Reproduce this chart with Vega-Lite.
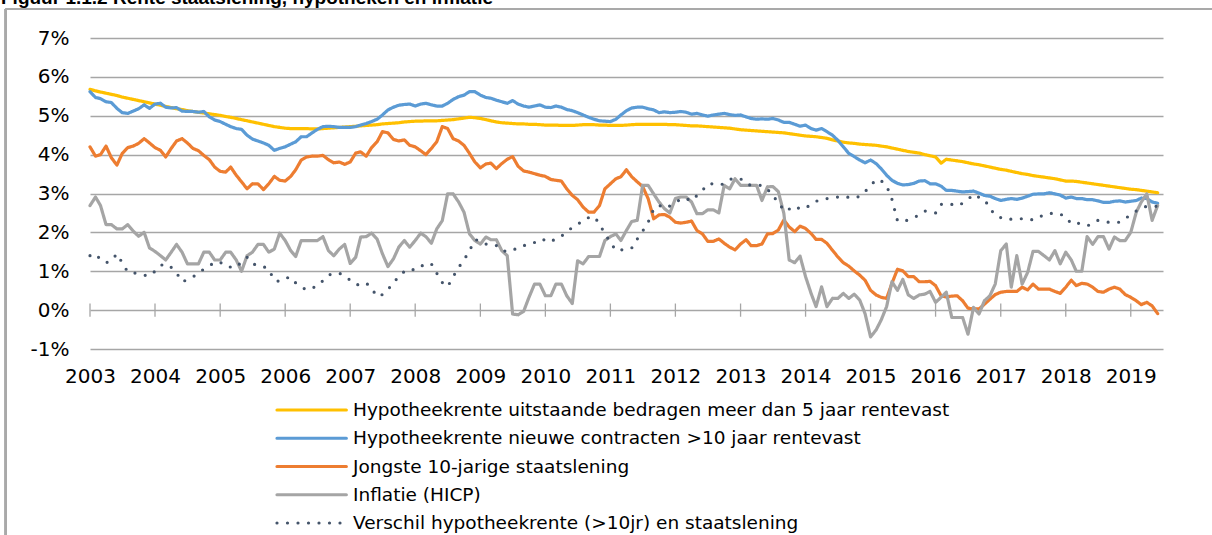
{
  "$schema": "https://vega.github.io/schema/vega-lite/v6.json",
  "width": 1073,
  "height": 311,
  "autosize": "none",
  "padding": {"left": 90, "top": 38, "right": 49, "bottom": 186},
  "background": "white",
  "title": {
    "text": "Figuur 1.1.2 Rente staatslening, hypotheken en inflatie",
    "anchor": "start",
    "frame": "group",
    "dx": -89,
    "offset": 0,
    "font": "Liberation Sans",
    "fontSize": 19,
    "fontWeight": "bold",
    "color": "#000000"
  },
  "config": {
    "view": {"stroke": null},
    "font": "DejaVu Sans",
    "axisY": {"labelOverlap": false, "labelSeparation": 0, "labelFontSize": 20, "labelFont": "DejaVu Sans", "labelColor": "#000000", "labelPadding": 21, "domain": false, "ticks": false, "gridColor": "#a6a6a6", "gridWidth": 1.3, "title": null},
    "axisX": {"labelOverlap": false, "labelFontSize": 20, "labelFont": "DejaVu Sans", "labelColor": "#000000", "labelPadding": 17, "domain": false, "ticks": false, "grid": false, "title": null}
  },
  "datasets": {
    "m": [
      {"d":"2003-01","u":5.68,"n":5.62,"s":4.20,"i":2.69,"v":1.40},
      {"d":"2003-02","u":5.64,"n":5.47,"s":3.96,"i":2.91,"v":1.45},
      {"d":"2003-03","u":5.61,"n":5.44,"s":4.00,"i":2.69,"v":1.30},
      {"d":"2003-04","u":5.58,"n":5.36,"s":4.22,"i":2.20,"v":1.22},
      {"d":"2003-05","u":5.55,"n":5.34,"s":3.92,"i":2.20,"v":1.27},
      {"d":"2003-06","u":5.52,"n":5.19,"s":3.73,"i":2.09,"v":1.45},
      {"d":"2003-07","u":5.48,"n":5.08,"s":4.03,"i":2.09,"v":1.22},
      {"d":"2003-08","u":5.45,"n":5.06,"s":4.18,"i":2.20,"v":0.98},
      {"d":"2003-09","u":5.42,"n":5.12,"s":4.22,"i":2.03,"v":0.96},
      {"d":"2003-10","u":5.39,"n":5.18,"s":4.29,"i":1.90,"v":0.94},
      {"d":"2003-11","u":5.36,"n":5.28,"s":4.41,"i":2.00,"v":0.90},
      {"d":"2003-12","u":5.33,"n":5.19,"s":4.30,"i":1.60,"v":0.88},
      {"d":"2004-01","u":5.30,"n":5.30,"s":4.18,"i":1.51,"v":1.00},
      {"d":"2004-02","u":5.27,"n":5.32,"s":4.11,"i":1.40,"v":1.15},
      {"d":"2004-03","u":5.24,"n":5.22,"s":3.94,"i":1.29,"v":1.19},
      {"d":"2004-04","u":5.21,"n":5.20,"s":4.16,"i":1.49,"v":1.10},
      {"d":"2004-05","u":5.18,"n":5.21,"s":4.35,"i":1.69,"v":0.96},
      {"d":"2004-06","u":5.16,"n":5.12,"s":4.41,"i":1.49,"v":0.73},
      {"d":"2004-07","u":5.13,"n":5.11,"s":4.30,"i":1.19,"v":0.78},
      {"d":"2004-08","u":5.11,"n":5.11,"s":4.16,"i":1.19,"v":0.85},
      {"d":"2004-09","u":5.09,"n":5.09,"s":4.10,"i":1.19,"v":0.97},
      {"d":"2004-10","u":5.07,"n":5.11,"s":3.98,"i":1.49,"v":1.05},
      {"d":"2004-11","u":5.05,"n":4.97,"s":3.87,"i":1.49,"v":1.13},
      {"d":"2004-12","u":5.03,"n":4.89,"s":3.68,"i":1.29,"v":1.24},
      {"d":"2005-01","u":5.01,"n":4.85,"s":3.57,"i":1.29,"v":1.22},
      {"d":"2005-02","u":4.98,"n":4.78,"s":3.55,"i":1.49,"v":1.20},
      {"d":"2005-03","u":4.96,"n":4.72,"s":3.68,"i":1.49,"v":1.10},
      {"d":"2005-04","u":4.93,"n":4.67,"s":3.47,"i":1.29,"v":1.10},
      {"d":"2005-05","u":4.90,"n":4.65,"s":3.30,"i":1.00,"v":1.24},
      {"d":"2005-06","u":4.87,"n":4.50,"s":3.12,"i":1.40,"v":1.36},
      {"d":"2005-07","u":4.84,"n":4.40,"s":3.25,"i":1.49,"v":1.20},
      {"d":"2005-08","u":4.81,"n":4.35,"s":3.25,"i":1.69,"v":1.14},
      {"d":"2005-09","u":4.78,"n":4.30,"s":3.10,"i":1.69,"v":1.12},
      {"d":"2005-10","u":4.75,"n":4.24,"s":3.25,"i":1.49,"v":1.05},
      {"d":"2005-11","u":4.72,"n":4.11,"s":3.44,"i":1.57,"v":0.76},
      {"d":"2005-12","u":4.70,"n":4.16,"s":3.34,"i":1.98,"v":0.74},
      {"d":"2006-01","u":4.68,"n":4.20,"s":3.32,"i":1.79,"v":0.82},
      {"d":"2006-02","u":4.67,"n":4.27,"s":3.44,"i":1.53,"v":0.85},
      {"d":"2006-03","u":4.67,"n":4.33,"s":3.61,"i":1.38,"v":0.70},
      {"d":"2006-04","u":4.67,"n":4.46,"s":3.86,"i":1.79,"v":0.60},
      {"d":"2006-05","u":4.67,"n":4.46,"s":3.94,"i":1.79,"v":0.52},
      {"d":"2006-06","u":4.66,"n":4.56,"s":3.96,"i":1.79,"v":0.57},
      {"d":"2006-07","u":4.66,"n":4.65,"s":3.96,"i":1.79,"v":0.62},
      {"d":"2006-08","u":4.67,"n":4.72,"s":3.98,"i":1.89,"v":0.76},
      {"d":"2006-09","u":4.68,"n":4.73,"s":3.87,"i":1.53,"v":0.90},
      {"d":"2006-10","u":4.69,"n":4.72,"s":3.79,"i":1.40,"v":0.95},
      {"d":"2006-11","u":4.70,"n":4.70,"s":3.81,"i":1.57,"v":0.95},
      {"d":"2006-12","u":4.71,"n":4.70,"s":3.75,"i":1.69,"v":0.88},
      {"d":"2007-01","u":4.72,"n":4.70,"s":3.81,"i":1.20,"v":0.77},
      {"d":"2007-02","u":4.73,"n":4.72,"s":4.04,"i":1.36,"v":0.66},
      {"d":"2007-03","u":4.74,"n":4.76,"s":4.07,"i":1.88,"v":0.65},
      {"d":"2007-04","u":4.75,"n":4.80,"s":3.96,"i":1.89,"v":0.70},
      {"d":"2007-05","u":4.76,"n":4.85,"s":4.18,"i":1.98,"v":0.56},
      {"d":"2007-06","u":4.77,"n":4.91,"s":4.33,"i":1.83,"v":0.35},
      {"d":"2007-07","u":4.79,"n":5.02,"s":4.59,"i":1.45,"v":0.40},
      {"d":"2007-08","u":4.80,"n":5.15,"s":4.56,"i":1.12,"v":0.52},
      {"d":"2007-09","u":4.81,"n":5.22,"s":4.39,"i":1.32,"v":0.73},
      {"d":"2007-10","u":4.82,"n":5.27,"s":4.35,"i":1.62,"v":0.84},
      {"d":"2007-11","u":4.84,"n":5.29,"s":4.38,"i":1.79,"v":1.00},
      {"d":"2007-12","u":4.85,"n":5.30,"s":4.24,"i":1.62,"v":1.06},
      {"d":"2008-01","u":4.86,"n":5.25,"s":4.20,"i":1.79,"v":1.03},
      {"d":"2008-02","u":4.86,"n":5.30,"s":4.10,"i":1.98,"v":1.12},
      {"d":"2008-03","u":4.87,"n":5.32,"s":4.00,"i":1.89,"v":1.20},
      {"d":"2008-04","u":4.87,"n":5.28,"s":4.16,"i":1.72,"v":1.19},
      {"d":"2008-05","u":4.87,"n":5.25,"s":4.33,"i":2.09,"v":0.95},
      {"d":"2008-06","u":4.88,"n":5.25,"s":4.72,"i":2.30,"v":0.71},
      {"d":"2008-07","u":4.89,"n":5.32,"s":4.67,"i":2.99,"v":0.60},
      {"d":"2008-08","u":4.90,"n":5.42,"s":4.41,"i":2.99,"v":0.86},
      {"d":"2008-09","u":4.92,"n":5.49,"s":4.35,"i":2.78,"v":1.10},
      {"d":"2008-10","u":4.94,"n":5.53,"s":4.24,"i":2.52,"v":1.29},
      {"d":"2008-11","u":4.96,"n":5.62,"s":4.03,"i":1.96,"v":1.53},
      {"d":"2008-12","u":4.95,"n":5.62,"s":3.81,"i":1.79,"v":1.81},
      {"d":"2009-01","u":4.93,"n":5.53,"s":3.66,"i":1.70,"v":1.79},
      {"d":"2009-02","u":4.90,"n":5.47,"s":3.76,"i":1.88,"v":1.70},
      {"d":"2009-03","u":4.87,"n":5.45,"s":3.78,"i":1.81,"v":1.66},
      {"d":"2009-04","u":4.84,"n":5.40,"s":3.64,"i":1.81,"v":1.66},
      {"d":"2009-05","u":4.82,"n":5.36,"s":3.77,"i":1.53,"v":1.53},
      {"d":"2009-06","u":4.81,"n":5.32,"s":3.88,"i":1.40,"v":1.51},
      {"d":"2009-07","u":4.80,"n":5.39,"s":3.95,"i":-0.10,"v":1.53},
      {"d":"2009-08","u":4.79,"n":5.30,"s":3.70,"i":-0.12,"v":1.62},
      {"d":"2009-09","u":4.79,"n":5.25,"s":3.58,"i":-0.03,"v":1.66},
      {"d":"2009-10","u":4.78,"n":5.22,"s":3.55,"i":0.33,"v":1.68},
      {"d":"2009-11","u":4.78,"n":5.25,"s":3.51,"i":0.67,"v":1.74},
      {"d":"2009-12","u":4.77,"n":5.28,"s":3.47,"i":0.67,"v":1.83},
      {"d":"2010-01","u":4.76,"n":5.22,"s":3.44,"i":0.37,"v":1.80},
      {"d":"2010-02","u":4.76,"n":5.21,"s":3.36,"i":0.37,"v":1.75},
      {"d":"2010-03","u":4.76,"n":5.25,"s":3.34,"i":0.67,"v":1.85},
      {"d":"2010-04","u":4.75,"n":5.22,"s":3.32,"i":0.67,"v":1.90},
      {"d":"2010-05","u":4.75,"n":5.16,"s":3.12,"i":0.37,"v":2.03},
      {"d":"2010-06","u":4.75,"n":5.13,"s":2.95,"i":0.17,"v":2.12},
      {"d":"2010-07","u":4.76,"n":5.08,"s":2.84,"i":1.27,"v":2.20},
      {"d":"2010-08","u":4.77,"n":5.02,"s":2.65,"i":1.19,"v":2.32},
      {"d":"2010-09","u":4.77,"n":4.96,"s":2.52,"i":1.38,"v":2.38},
      {"d":"2010-10","u":4.77,"n":4.91,"s":2.52,"i":1.38,"v":2.41},
      {"d":"2010-11","u":4.76,"n":4.87,"s":2.69,"i":1.38,"v":2.22},
      {"d":"2010-12","u":4.76,"n":4.86,"s":3.12,"i":1.79,"v":1.96},
      {"d":"2011-01","u":4.75,"n":4.85,"s":3.25,"i":1.89,"v":1.75},
      {"d":"2011-02","u":4.75,"n":4.91,"s":3.38,"i":1.96,"v":1.53},
      {"d":"2011-03","u":4.75,"n":5.02,"s":3.43,"i":1.79,"v":1.55},
      {"d":"2011-04","u":4.76,"n":5.13,"s":3.61,"i":2.05,"v":1.55},
      {"d":"2011-05","u":4.77,"n":5.20,"s":3.43,"i":2.28,"v":1.60},
      {"d":"2011-06","u":4.78,"n":5.22,"s":3.30,"i":2.31,"v":1.83},
      {"d":"2011-07","u":4.78,"n":5.22,"s":3.18,"i":3.21,"v":2.03},
      {"d":"2011-08","u":4.78,"n":5.18,"s":2.87,"i":3.21,"v":2.26},
      {"d":"2011-09","u":4.78,"n":5.15,"s":2.35,"i":2.99,"v":2.60},
      {"d":"2011-10","u":4.78,"n":5.08,"s":2.45,"i":2.78,"v":2.70},
      {"d":"2011-11","u":4.78,"n":5.10,"s":2.46,"i":2.61,"v":2.62},
      {"d":"2011-12","u":4.77,"n":5.08,"s":2.39,"i":2.50,"v":2.68},
      {"d":"2012-01","u":4.77,"n":5.09,"s":2.26,"i":2.87,"v":2.75},
      {"d":"2012-02","u":4.76,"n":5.11,"s":2.24,"i":2.91,"v":2.87},
      {"d":"2012-03","u":4.75,"n":5.09,"s":2.26,"i":2.91,"v":2.87},
      {"d":"2012-04","u":4.74,"n":5.04,"s":2.29,"i":2.78,"v":2.81},
      {"d":"2012-05","u":4.74,"n":5.06,"s":2.05,"i":2.48,"v":2.95},
      {"d":"2012-06","u":4.73,"n":5.02,"s":1.96,"i":2.48,"v":3.08},
      {"d":"2012-07","u":4.72,"n":4.99,"s":1.77,"i":2.58,"v":3.25},
      {"d":"2012-08","u":4.71,"n":5.02,"s":1.77,"i":2.58,"v":3.25},
      {"d":"2012-09","u":4.70,"n":5.04,"s":1.83,"i":2.50,"v":3.22},
      {"d":"2012-10","u":4.69,"n":5.06,"s":1.72,"i":3.21,"v":3.25},
      {"d":"2012-11","u":4.68,"n":5.03,"s":1.62,"i":3.12,"v":3.36},
      {"d":"2012-12","u":4.66,"n":5.01,"s":1.55,"i":3.38,"v":3.40},
      {"d":"2013-01","u":4.64,"n":5.02,"s":1.70,"i":3.21,"v":3.38},
      {"d":"2013-02","u":4.63,"n":4.97,"s":1.81,"i":3.21,"v":3.25},
      {"d":"2013-03","u":4.62,"n":4.93,"s":1.66,"i":3.21,"v":3.21},
      {"d":"2013-04","u":4.61,"n":4.91,"s":1.66,"i":3.21,"v":3.21},
      {"d":"2013-05","u":4.60,"n":4.92,"s":1.70,"i":2.82,"v":3.21},
      {"d":"2013-06","u":4.59,"n":4.91,"s":1.96,"i":3.17,"v":3.12},
      {"d":"2013-07","u":4.58,"n":4.93,"s":1.97,"i":3.18,"v":2.92},
      {"d":"2013-08","u":4.57,"n":4.89,"s":2.06,"i":3.05,"v":2.80},
      {"d":"2013-09","u":4.56,"n":4.83,"s":2.32,"i":2.49,"v":2.55},
      {"d":"2013-10","u":4.54,"n":4.83,"s":2.14,"i":1.29,"v":2.60},
      {"d":"2013-11","u":4.52,"n":4.78,"s":2.02,"i":1.22,"v":2.68},
      {"d":"2013-12","u":4.50,"n":4.73,"s":2.16,"i":1.39,"v":2.60},
      {"d":"2014-01","u":4.48,"n":4.76,"s":2.10,"i":0.86,"v":2.62},
      {"d":"2014-02","u":4.47,"n":4.67,"s":1.97,"i":0.43,"v":2.73},
      {"d":"2014-03","u":4.46,"n":4.63,"s":1.82,"i":0.09,"v":2.80},
      {"d":"2014-04","u":4.44,"n":4.67,"s":1.82,"i":0.60,"v":2.85},
      {"d":"2014-05","u":4.42,"n":4.59,"s":1.72,"i":0.09,"v":2.87},
      {"d":"2014-06","u":4.38,"n":4.50,"s":1.54,"i":0.30,"v":2.89},
      {"d":"2014-07","u":4.35,"n":4.37,"s":1.37,"i":0.30,"v":2.91},
      {"d":"2014-08","u":4.32,"n":4.20,"s":1.22,"i":0.43,"v":2.93},
      {"d":"2014-09","u":4.30,"n":4.03,"s":1.13,"i":0.30,"v":2.90},
      {"d":"2014-10","u":4.29,"n":3.95,"s":1.01,"i":0.41,"v":2.88},
      {"d":"2014-11","u":4.27,"n":3.86,"s":0.90,"i":0.26,"v":2.93},
      {"d":"2014-12","u":4.26,"n":3.79,"s":0.77,"i":-0.09,"v":3.05},
      {"d":"2015-01","u":4.25,"n":3.86,"s":0.51,"i":-0.69,"v":3.20},
      {"d":"2015-02","u":4.24,"n":3.77,"s":0.39,"i":-0.51,"v":3.36},
      {"d":"2015-03","u":4.22,"n":3.64,"s":0.33,"i":-0.26,"v":3.33},
      {"d":"2015-04","u":4.20,"n":3.47,"s":0.30,"i":0.09,"v":3.20},
      {"d":"2015-05","u":4.17,"n":3.34,"s":0.69,"i":0.73,"v":2.85},
      {"d":"2015-06","u":4.14,"n":3.26,"s":1.05,"i":0.51,"v":2.30},
      {"d":"2015-07","u":4.11,"n":3.22,"s":1.01,"i":0.79,"v":2.28},
      {"d":"2015-08","u":4.08,"n":3.23,"s":0.86,"i":0.39,"v":2.32},
      {"d":"2015-09","u":4.06,"n":3.26,"s":0.86,"i":0.30,"v":2.38},
      {"d":"2015-10","u":4.04,"n":3.32,"s":0.73,"i":0.39,"v":2.45},
      {"d":"2015-11","u":4.00,"n":3.33,"s":0.73,"i":0.41,"v":2.55},
      {"d":"2015-12","u":3.97,"n":3.25,"s":0.74,"i":0.48,"v":2.52},
      {"d":"2016-01","u":3.94,"n":3.25,"s":0.63,"i":0.20,"v":2.50},
      {"d":"2016-02","u":3.78,"n":3.19,"s":0.37,"i":0.33,"v":2.72},
      {"d":"2016-03","u":3.88,"n":3.08,"s":0.34,"i":0.46,"v":2.74},
      {"d":"2016-04","u":3.86,"n":3.08,"s":0.36,"i":-0.19,"v":2.72},
      {"d":"2016-05","u":3.84,"n":3.06,"s":0.37,"i":-0.19,"v":2.68},
      {"d":"2016-06","u":3.82,"n":3.04,"s":0.24,"i":-0.19,"v":2.75},
      {"d":"2016-07","u":3.79,"n":3.05,"s":0.05,"i":-0.62,"v":2.85},
      {"d":"2016-08","u":3.76,"n":3.06,"s":0.03,"i":0.07,"v":2.98},
      {"d":"2016-09","u":3.74,"n":3.01,"s":0.03,"i":-0.10,"v":2.90},
      {"d":"2016-10","u":3.71,"n":2.95,"s":0.15,"i":0.24,"v":2.85},
      {"d":"2016-11","u":3.68,"n":2.93,"s":0.28,"i":0.37,"v":2.62},
      {"d":"2016-12","u":3.65,"n":2.87,"s":0.40,"i":0.67,"v":2.44},
      {"d":"2017-01","u":3.62,"n":2.82,"s":0.46,"i":1.53,"v":2.38},
      {"d":"2017-02","u":3.60,"n":2.85,"s":0.48,"i":1.70,"v":2.33},
      {"d":"2017-03","u":3.57,"n":2.87,"s":0.48,"i":0.59,"v":2.34},
      {"d":"2017-04","u":3.54,"n":2.85,"s":0.48,"i":1.40,"v":2.35},
      {"d":"2017-05","u":3.51,"n":2.88,"s":0.59,"i":0.67,"v":2.35},
      {"d":"2017-06","u":3.49,"n":2.93,"s":0.52,"i":0.97,"v":2.35},
      {"d":"2017-07","u":3.46,"n":2.98,"s":0.67,"i":1.51,"v":2.32},
      {"d":"2017-08","u":3.44,"n":2.99,"s":0.54,"i":1.51,"v":2.38},
      {"d":"2017-09","u":3.42,"n":2.99,"s":0.54,"i":1.40,"v":2.46},
      {"d":"2017-10","u":3.40,"n":3.02,"s":0.54,"i":1.29,"v":2.48},
      {"d":"2017-11","u":3.38,"n":2.99,"s":0.48,"i":1.53,"v":2.50},
      {"d":"2017-12","u":3.35,"n":2.96,"s":0.43,"i":1.19,"v":2.47},
      {"d":"2018-01","u":3.32,"n":2.88,"s":0.59,"i":1.49,"v":2.40},
      {"d":"2018-02","u":3.32,"n":2.91,"s":0.77,"i":1.29,"v":2.22},
      {"d":"2018-03","u":3.31,"n":2.87,"s":0.63,"i":1.00,"v":2.24},
      {"d":"2018-04","u":3.29,"n":2.87,"s":0.69,"i":1.00,"v":2.22},
      {"d":"2018-05","u":3.27,"n":2.84,"s":0.67,"i":1.89,"v":2.17},
      {"d":"2018-06","u":3.25,"n":2.84,"s":0.59,"i":1.69,"v":2.22},
      {"d":"2018-07","u":3.23,"n":2.81,"s":0.48,"i":1.89,"v":2.31},
      {"d":"2018-08","u":3.21,"n":2.77,"s":0.46,"i":1.89,"v":2.28},
      {"d":"2018-09","u":3.19,"n":2.77,"s":0.54,"i":1.57,"v":2.26},
      {"d":"2018-10","u":3.17,"n":2.80,"s":0.59,"i":1.88,"v":2.26},
      {"d":"2018-11","u":3.15,"n":2.81,"s":0.54,"i":1.79,"v":2.26},
      {"d":"2018-12","u":3.13,"n":2.78,"s":0.40,"i":1.79,"v":2.36},
      {"d":"2019-01","u":3.11,"n":2.80,"s":0.33,"i":2.00,"v":2.45},
      {"d":"2019-02","u":3.10,"n":2.82,"s":0.24,"i":2.52,"v":2.55},
      {"d":"2019-03","u":3.08,"n":2.88,"s":0.14,"i":2.78,"v":2.63},
      {"d":"2019-04","u":3.06,"n":2.87,"s":0.20,"i":2.99,"v":2.67},
      {"d":"2019-05","u":3.04,"n":2.78,"s":0.11,"i":2.31,"v":2.67},
      {"d":"2019-06","u":3.02,"n":2.75,"s":-0.09,"i":2.69,"v":2.67}
    ]
  },
  "data": {"name": "m"},
  "layer": [
    {
      "transform": [{"fold": ["u", "n", "s", "i", "v"], "as": ["k", "val"]}],
      "mark": {"type": "line", "strokeCap": "round", "strokeJoin": "round"},
      "encoding": {
        "x": {
          "field": "d",
          "type": "temporal",
          "scale": {
            "type": "utc",
            "domain": [
              {"year": 2003, "month": 1, "date": 1, "utc": true},
              {"year": 2019, "month": 7, "date": 1, "utc": true}
            ]
          },
          "axis": {
            "format": "%Y",
            "formatType": "utc",
            "tickCount": 40,
            "values": [
              {"year": 2003, "month": 1, "date": 1, "utc": true},
              {"year": 2004, "month": 1, "date": 1, "utc": true},
              {"year": 2005, "month": 1, "date": 1, "utc": true},
              {"year": 2006, "month": 1, "date": 1, "utc": true},
              {"year": 2007, "month": 1, "date": 1, "utc": true},
              {"year": 2008, "month": 1, "date": 1, "utc": true},
              {"year": 2009, "month": 1, "date": 1, "utc": true},
              {"year": 2010, "month": 1, "date": 1, "utc": true},
              {"year": 2011, "month": 1, "date": 1, "utc": true},
              {"year": 2012, "month": 1, "date": 1, "utc": true},
              {"year": 2013, "month": 1, "date": 1, "utc": true},
              {"year": 2014, "month": 1, "date": 1, "utc": true},
              {"year": 2015, "month": 1, "date": 1, "utc": true},
              {"year": 2016, "month": 1, "date": 1, "utc": true},
              {"year": 2017, "month": 1, "date": 1, "utc": true},
              {"year": 2018, "month": 1, "date": 1, "utc": true},
              {"year": 2019, "month": 1, "date": 1, "utc": true}
            ],
            "labelFlush": false
          }
        },
        "y": {
          "field": "val",
          "type": "quantitative",
          "scale": {"domain": [-1, 7], "nice": false, "zero": false},
          "axis": {
            "values": [-1, 0, 1, 2, 3, 4, 5, 6, 7],
            "tickCount": 20,
            "labelExpr": "datum.value + '%'",
            "labelOverlap": false,
            "labelFlush": false,
            "labelBound": false,
            "grid": true
          }
        },
        "strokeWidth": {
          "field": "k",
          "type": "nominal",
          "scale": {"domain": ["u", "n", "s", "i", "v"], "range": [3.2, 3.2, 3.2, 3.2, 4]},
          "legend": null
        },
        "color": {
          "field": "k",
          "type": "nominal",
          "scale": {
            "domain": ["u", "n", "s", "i", "v"],
            "range": ["#FFC000", "#5B9BD5", "#ED7D31", "#A5A5A5", "#44546A"]
          },
          "legend": {
            "title": null,
            "orient": "none",
            "legendX": 176,
            "legendY": 361,
            "direction": "vertical",
            "symbolType": "M0,0H7.6",
            "symbolSize": 333,
            "symbolStrokeWidth": 3.5,
            "labelFont": "DejaVu Sans",
            "labelFontSize": 18.5,
            "labelColor": "#000000",
            "labelOffset": 65,
            "labelLimit": 0,
            "rowPadding": 7.25,
            "padding": 0,
            "labelExpr": "datum.label == 'u' ? 'Hypotheekrente uitstaande bedragen meer dan 5 jaar rentevast' : datum.label == 'n' ? 'Hypotheekrente nieuwe contracten >10 jaar rentevast' : datum.label == 's' ? 'Jongste 10-jarige staatslening' : datum.label == 'i' ? 'Inflatie (HICP)' : 'Verschil hypotheekrente (>10jr) en staatslening'",
            "encode": {"symbols": {"update": {"strokeCap": {"value": "round"}, "fill": {"value": "transparent"}}}}
          }
        },
        "strokeDash": {
          "field": "k",
          "type": "nominal",
          "scale": {
            "domain": ["u", "n", "s", "i", "v"],
            "range": [[1, 0], [1, 0], [1, 0], [1, 0], [0, 10.5]]
          },
          "legend": {
            "title": null,
            "orient": "none",
            "legendX": 176,
            "legendY": 361,
            "direction": "vertical",
            "symbolType": "M0,0H7.6",
            "symbolSize": 333,
            "symbolStrokeWidth": 3.5,
            "labelFont": "DejaVu Sans",
            "labelFontSize": 18.5,
            "labelColor": "#000000",
            "labelOffset": 65,
            "labelLimit": 0,
            "rowPadding": 7.25,
            "padding": 0,
            "labelExpr": "datum.label == 'u' ? 'Hypotheekrente uitstaande bedragen meer dan 5 jaar rentevast' : datum.label == 'n' ? 'Hypotheekrente nieuwe contracten >10 jaar rentevast' : datum.label == 's' ? 'Jongste 10-jarige staatslening' : datum.label == 'i' ? 'Inflatie (HICP)' : 'Verschil hypotheekrente (>10jr) en staatslening'",
            "encode": {"symbols": {"update": {"strokeCap": {"value": "round"}, "fill": {"value": "transparent"}}}}
          }
        }
      }
    },
    {
      "transform": [{"filter": "utcmonth(toDate(datum.d)) === 0"}],
      "mark": {"type": "rule", "color": "#a6a6a6", "strokeWidth": 1.3},
      "encoding": {
        "x": {"field": "d", "type": "temporal"},
        "y": {"datum": -0.17, "type": "quantitative"},
        "y2": {"datum": 0.17}
      }
    },
    {
      "mark": {"type": "rule", "color": "#a9a9a9", "strokeWidth": 2, "clip": false},
      "encoding": {
        "x": {"datum": {"year": 2001, "month": 9, "date": 16, "utc": true}, "type": "temporal"},
        "x2": {"datum": {"year": 2025, "month": 1, "date": 1, "utc": true}},
        "y": {"datum": 7.745, "type": "quantitative"}
      }
    },
    {
      "mark": {"type": "rule", "color": "#a9a9a9", "strokeWidth": 2, "clip": false},
      "encoding": {
        "x": {"datum": {"year": 2001, "month": 9, "date": 16, "utc": true}, "type": "temporal"},
        "y": {"datum": 7.745, "type": "quantitative"},
        "y2": {"datum": -6.5}
      }
    }
  ]
}
